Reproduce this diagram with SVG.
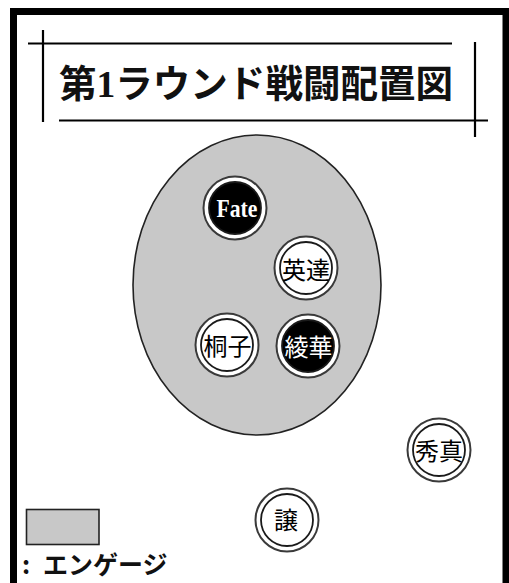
<svg xmlns="http://www.w3.org/2000/svg" width="509" height="583" viewBox="0 0 509 583">
<style>
.rule{stroke:#000;stroke-width:2.2;fill:none}
.ring{fill:#fff;stroke:#3a3a3a;stroke-width:2}
.inner{stroke:#1a1a1a;stroke-width:1.8}
.w{fill:#fff}
.b{fill:#000}
.lbl{font-family:"Noto Sans CJK JP","Noto Sans",sans-serif;font-size:24px;text-anchor:middle}
.engage{fill:#c8c8c8;stroke:#222;stroke-width:1.6}
</style>
<rect x="0" y="0" width="509" height="583" fill="#fff"/>
<rect x="13.5" y="11.5" width="492.5" height="600" fill="none" stroke="#000" stroke-width="7"/>
<g id="title">
<line class="rule" x1="28" y1="43.5" x2="452" y2="43.5"/>
<line class="rule" x1="43" y1="30" x2="43" y2="122"/>
<line class="rule" x1="475" y1="42" x2="475" y2="137"/>
<line class="rule" x1="59" y1="120.5" x2="488" y2="120.5"/>
<text x="59" y="97" textLength="394" lengthAdjust="spacingAndGlyphs" font-family="'Liberation Serif','Noto Sans CJK JP',serif" font-weight="bold" font-size="37.5" fill="#111">第1ラウンド戦闘配置図</text>
</g>
<g id="engage-zone">
<ellipse class="engage" cx="257" cy="285" rx="124" ry="150"/>
</g>
<g id="connectors"></g>
<g id="node-fate">
<circle class="ring" cx="235" cy="208" r="31.5"/>
<circle class="inner b" cx="235" cy="208" r="26"/>
<text x="237" y="216.5" textLength="41" lengthAdjust="spacingAndGlyphs" font-family="'Liberation Serif',serif" font-weight="bold" font-size="25" text-anchor="middle" class="w">Fate</text>
</g>
<g id="node-eitatsu">
<circle class="ring" cx="306" cy="268" r="31.5"/>
<circle class="inner w" cx="306" cy="268" r="26"/>
<text class="lbl b" x="306" y="278.5">英達</text>
</g>
<g id="node-kiriko">
<circle class="ring" cx="227" cy="345" r="31.5"/>
<circle class="inner w" cx="227" cy="345" r="26"/>
<text class="lbl b" x="227.5" y="355">桐子</text>
</g>
<g id="node-ayaka">
<circle class="ring" cx="308" cy="346" r="31.5"/>
<circle class="inner b" cx="308" cy="346" r="26"/>
<text class="lbl w" x="308.5" y="355.5">綾華</text>
</g>
<g id="node-shuma">
<circle class="ring" cx="439" cy="450" r="31.5"/>
<circle class="inner w" cx="439" cy="450" r="26"/>
<text class="lbl b" x="439" y="460">秀真</text>
</g>
<g id="node-yuzuru">
<circle class="ring" cx="287" cy="520" r="31.5"/>
<circle class="inner w" cx="287" cy="520" r="26"/>
<text class="lbl b" x="286" y="529">譲</text>
</g>
<g id="legend">
<rect class="engage" x="26.5" y="509.5" width="72.5" height="35"/>
<text font-family="'Noto Sans CJK JP',sans-serif" font-size="25" font-weight="bold" fill="#111" y="574"><tspan x="22">:</tspan><tspan x="43">エンゲージ</tspan></text>
</g>
</svg>
